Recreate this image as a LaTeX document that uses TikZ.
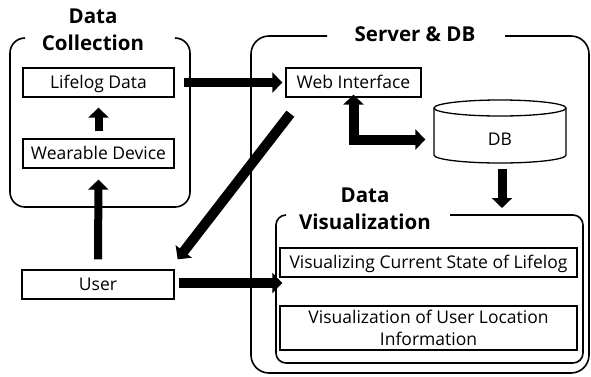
\documentclass[tikz,border=0pt]{standalone}
\usepackage{fontspec}
\setmainfont{Open Sans}
\usetikzlibrary{arrows.meta,calc}
\begin{document}
\begin{tikzpicture}[x=1pt,y=-1pt,
  box/.style={draw,line width=1.3pt,inner sep=0pt,minimum height=29pt,text height=12.6pt,text depth=0pt,font=\fontsize{17.5}{22}\selectfont},
  cont/.style={line width=1.6pt,rounded corners=#1},
  ttl/.style={inner sep=0pt,align=center,font=\bfseries\fontsize{20.5}{27}\selectfont},
  fat/.style={line width=#1,-{Triangle[length=10pt,width=20pt]}},
  fat/.default=9pt]
\useasboundingbox (0,0) rectangle (591,376);

% containers
\draw[cont=15] (25,38) -- (10,38) -- (10,207) -- (190,207) -- (190,38) -- (175,38);
\draw[cont=18] (327,36) -- (251,36) -- (251,373) -- (589,373) -- (589,36) -- (505,36);
\draw[cont=10] (286,215) -- (276,215) -- (276,363) -- (583,363) -- (583,215) -- (450,215);
\coordinate (dvtop) at (502,215);

% titles
\node[ttl,anchor=south] (tcol) at (93,51) {Data\\Collection};
\node[ttl,anchor=base] (tsrv) at (415,41) {Server \& DB};
\node[ttl,anchor=south] (tvis) at (365,230) {Data\\Visualization};

% boxes
\node[box,minimum width=151pt] (life) at (98.5,82.5) {Lifelog Data};
\node[box,minimum width=151pt] (wear) at (98.5,153.5) {Wearable Device};
\node[box,minimum width=152pt] (user) at (98,284.5) {User};
\node[box,minimum width=135pt] (web) at (353.5,82.5) {Web Interface};
\node[box,minimum width=297pt] (vis1) at (428.5,262.5) {Visualizing Current State of Lifelog};
\node[draw,line width=1.3pt,inner sep=0pt,minimum height=44pt,minimum width=297pt,align=center,font=\fontsize{17.5}{22}\selectfont] (vis2) at (428.5,328) {Visualization of User Location\\Information};

% DB cylinder
\node[box,draw=none,minimum width=132pt,minimum height=47pt] (db) at (500,139.5) {DB};
\draw[line width=1.3pt] (500,108) ellipse [x radius=66, y radius=8];
\draw[line width=1.3pt] (434,108) -- (434,155) arc[start angle=180,end angle=0,x radius=66,y radius=8] -- (566,108);

% arrows
\draw[fat=8pt,shorten <=7pt,shorten >=10pt] (wear.north) -- (life.south);
\draw[fat=8pt,shorten <=10pt,shorten >=11pt] (user.north) -- (wear.south);
\draw[fat,shorten <=9pt,shorten >=3pt] (life.east) -- (web.west);
\draw[fat=10pt] ([shift={(5,16)}]web.south west) -- ([shift={(3,-10)}]user.north east);
\draw[fat=10pt,shorten <=4pt,shorten >=-3pt] ([yshift=1.5]user.east) -- ([yshift=1.5]user.east -| vis1.west);
\draw[line width=10pt,{Triangle[length=10pt,width=20pt]}-{Triangle[length=10pt,width=20pt]},line join=miter]
  ([yshift=3]web.south) |- ([xshift=-8]db.west);
\draw[fat,shorten <=5pt,shorten >=7pt] ([xshift=2]db.south) -- (dvtop);
\end{tikzpicture}
\end{document}
